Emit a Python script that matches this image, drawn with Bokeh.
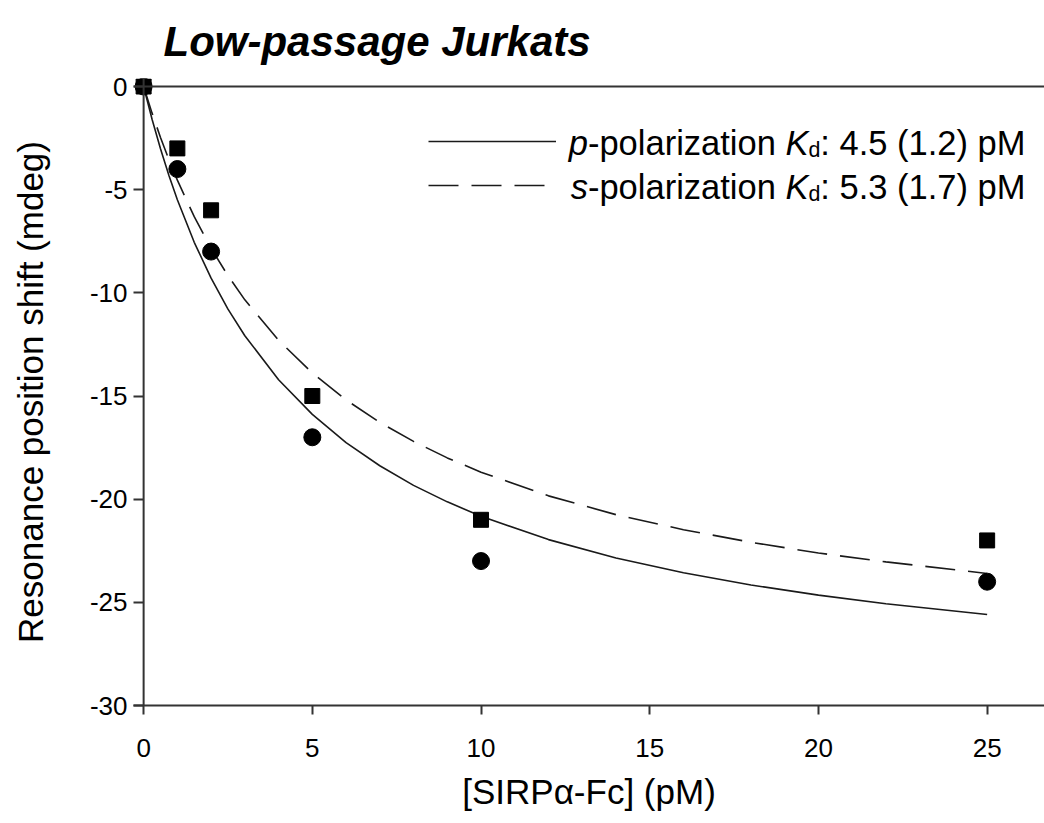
from bokeh.plotting import figure
from bokeh.models import Range1d, Label, Legend, LegendItem, FixedTicker, Span
from bokeh.embed import file_html
from bokeh.resources import INLINE

# ---------------- data ----------------
conc = [0, 1, 2, 5, 10, 25]
shift_p = [0, -4, -8, -17, -23, -24]          # circles (p-polarization)
shift_s = [0, -3, -6, -15, -21, -22]          # squares (s-polarization)

fit_x = [0, 0.25, 0.5, 0.75, 1, 1.5, 2, 2.5, 3, 4, 5, 6, 7, 8, 9, 10,
         12, 14, 16, 18, 20, 22, 25]
fit_p = [0, -1.59, -3.02, -4.31, -5.49, -7.55, -9.29, -10.79, -12.08, -14.21,
         -15.89, -17.26, -18.38, -19.33, -20.13, -20.83, -21.96, -22.85,
         -23.57, -24.16, -24.65, -25.07, -25.59]
fit_s = [0, -1.29, -2.47, -3.55, -4.54, -6.31, -7.84, -9.17, -10.34, -12.30,
         -13.88, -15.19, -16.28, -17.20, -18.00, -18.69, -19.84, -20.75,
         -21.48, -22.09, -22.61, -23.04, -23.60]

x_ticks = [0, 5, 10, 15, 20, 25]
y_ticks = [0, -5, -10, -15, -20, -25, -30]
y_tick_labels = ["0", "-5", "-10", "-15", "-20", "-25", "-30"]

title_text = "Low-passage Jurkats"
x_label = "[SIRPα-Fc] (pM)"
y_label = "Resonance position shift (mdeg)"
legend_rows = [
    ("p", "-polarization ", "K", "d", ": 4.5 (1.2) pM"),
    ("s", "-polarization ", "K", "d", ": 5.3 (1.7) pM"),
]

# ---------------- layout ----------------
W, H = 1044, 823
ML, MR, MT, MB = 133, 0, 78, 118
X0, X1 = -0.3, 26.7
Y0, Y1 = -30, 0.388
FW, FH = W - ML - MR, H - MT - MB
pxx = (X1 - X0) / FW   # data per px (x)
pxy = (Y1 - Y0) / FH   # data per px (y)

def dx(px):
    return X0 + (px - ML) * pxx

def dy(py):
    return Y1 - (py - MT) * pxy

FONT = "Liberation Sans"
INK = "#1a1a1a"
AXC = "#333333"

p = figure(width=W, height=H, x_range=Range1d(X0, X1), y_range=Range1d(Y0, Y1),
           output_backend="svg", toolbar_location=None,
           min_border_left=ML, min_border_right=MR, min_border_top=MT,
           min_border_bottom=MB)
p.outline_line_color = None
p.xgrid.visible = False
p.ygrid.visible = False
p.background_fill_color = "white"
p.border_fill_color = "white"

for ax, ticks in ((p.xaxis, x_ticks), (p.yaxis, y_ticks)):
    ax.ticker = FixedTicker(ticks=ticks)
    ax.minor_tick_line_color = None
    ax.axis_line_width = 2
    ax.axis_line_color = AXC
    ax.major_tick_line_width = 2
    ax.major_tick_line_color = AXC
    ax.major_label_text_font = FONT
    ax.major_label_text_font_size = "26px"
    ax.major_label_text_color = "black"
    ax.axis_label_text_font = FONT
    ax.axis_label_text_font_size = "35px"
    ax.axis_label_text_font_style = "normal"
    ax.axis_label_text_color = "black"

p.xaxis.major_tick_out = 9
p.xaxis.major_tick_in = 0
# y ticks run from the frame edge in to the y = 0 axis line
p.yaxis.major_tick_out = 0
p.yaxis.major_tick_in = 10
p.yaxis.axis_line_color = None
p.yaxis.major_label_overrides = {t: s for t, s in zip(y_ticks, y_tick_labels)}
p.xaxis.axis_label = x_label
p.yaxis.axis_label = y_label
p.xaxis.major_label_standoff = 24
p.yaxis.major_label_standoff = 6
p.xaxis.axis_label_standoff = 12
p.yaxis.axis_label_standoff = 37

p.add_layout(Span(location=0, dimension="width", line_color=AXC, line_width=2))
p.add_layout(Span(location=0, dimension="height", line_color=AXC, line_width=2))

# ---------------- glyphs ----------------
r_p = p.line(fit_x, fit_p, line_color=INK, line_width=1.6)
r_s = p.line(fit_x, fit_s, line_color=INK, line_width=1.6, line_dash="30 13")
p.scatter(conc, shift_p, marker="circle", size=17, fill_color="black",
          line_color="black")
p.scatter(conc, shift_s, marker="square", size=15, fill_color="black",
          line_color="black")

# ---------------- legend samples ----------------
legend = Legend(items=[LegendItem(label=" ", renderers=[r_p]),
                       LegendItem(label=" ", renderers=[r_s])],
                location=(295, 510), glyph_width=128, glyph_height=20,
                label_width=0, label_height=20, label_standoff=0, spacing=24,
                padding=0, margin=0, border_line_color=None,
                background_fill_alpha=0, label_text_font_size="1px")
p.add_layout(legend, "center")

# ---------------- legend text ----------------
AW = {' ': 278, '(': 333, ')': 333, '-': 333, '.': 278, ':': 278, 'M': 833,
      'p': 556, 'o': 556, 'l': 222, 'a': 556, 'r': 333, 'i': 222, 'z': 500,
      't': 278, 'n': 556, 's': 500, 'K': 667, 'd': 556}
for c in "0123456789":
    AW[c] = 556

def tw(s, size):
    return sum(AW.get(c, 556) for c in s) * size / 1000.0

LF = 34.5
SUB = 0.62 * LF
right_px = 1025
for row, base_px in zip(legend_rows, (142, 186)):
    a, b, k, d, e = row
    parts = [(a, "italic", LF, 0), (b, "normal", LF, 0), (k, "italic", LF, 0),
             (d, "normal", SUB, 7), (e, "normal", LF, 0)]
    total = sum(tw(s, sz) for s, _, sz, _ in parts)
    xpx = right_px - total
    for s, style, sz, drop in parts:
        p.add_layout(Label(x=dx(xpx), y=dy(base_px + drop), text=s,
                           text_font=FONT, text_font_style=style,
                           text_font_size=f"{sz:.1f}px", text_color="black",
                           text_baseline="alphabetic", text_align="left"))
        xpx += tw(s, sz)

# ---------------- title ----------------
p.title.text = title_text
p.title.text_font = FONT
p.title.text_font_style = "bold italic"
p.title.text_font_size = "42px"
p.title.text_color = "black"
p.title.align = "left"
p.title.offset = 30
p.title.standoff = 27

open("out.html", "w").write(file_html(p, INLINE))
